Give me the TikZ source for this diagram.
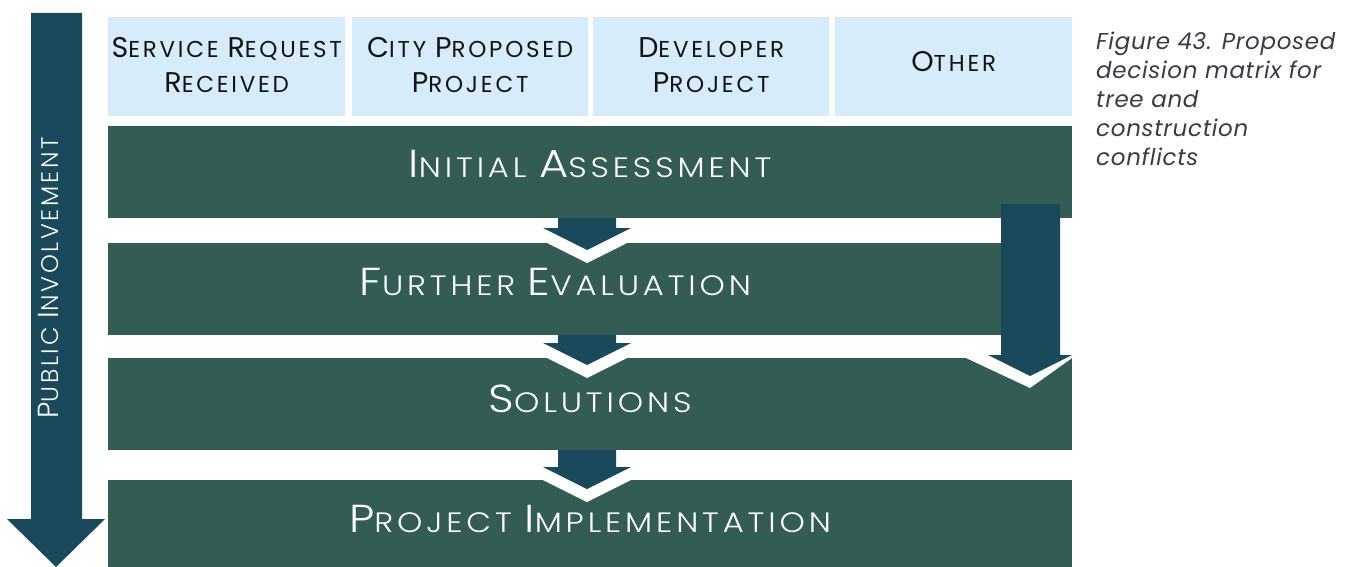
\documentclass[tikz,border=0pt]{standalone}
\usepackage{graphicx}
\usepackage{fontspec}
\setmainfont{Poppins}
\newfontfamily\lightfont{Poppins Light}
\definecolor{bandgreen}{RGB}{51,93,84}
\definecolor{arrowblue}{RGB}{27,73,92}
\definecolor{lightblue}{RGB}{214,236,251}
\definecolor{captiongray}{RGB}{58,58,72}
\definecolor{boxtextcol}{RGB}{20,20,20}
\newcommand\Cp[2]{{\fontsize{#1}{#1}\selectfont #2}}
\newcommand\Wide[1]{\scalebox{1.15}[1]{#1}}
\tikzset{
  topbox/.style={fill=lightblue, draw=none, anchor=north west, minimum height=99pt, inner sep=0pt},
  toptext/.style={align=center, inner sep=0pt, text=boxtextcol, font=\fontsize{23}{35}\selectfont\addfontfeatures{LetterSpace=12}},
  band/.style={fill=bandgreen, draw=none, anchor=north west, inner sep=0pt},
  bandtext/.style={text=white, anchor=base, inner sep=0pt, font=\lightfont\fontsize{28}{30}\selectfont\addfontfeatures{LetterSpace=12}},
  arrowfill/.style={fill=arrowblue, draw=none},
  whitefill/.style={fill=white, draw=none},
}
\begin{document}
\begin{tikzpicture}[x=1pt,y=-1pt]
\useasboundingbox (0,0) rectangle (1348,567);
% top boxes
\node[topbox, minimum width=237pt] (b1) at (108,17) {};
\node[topbox, minimum width=236pt] (b2) at (352,17) {};
\node[topbox, minimum width=236pt] (b3) at (593,17) {};
\node[topbox, minimum width=237pt] (b4) at (835,17) {};
\node[toptext, yshift=2pt] (l1) at (b1.center) {\Cp{28.5}{S}ERVICE \Cp{28.5}{R}EQUEST\\\Cp{28.5}{R}ECEIVED};
\node[toptext, yshift=2pt] (l2) at (b2.center) {\Cp{28.5}{C}ITY \Cp{28.5}{P}ROPOSED\\\Cp{28.5}{P}ROJECT};
\node[toptext, yshift=2pt] (l3) at (b3.center) {\Cp{28.5}{D}EVELOPER\\\Cp{28.5}{P}ROJECT};
\node[toptext, yshift=5pt] (l4) at (b4.center) {\Cp{28.5}{O}THER};
% bands
\node[band, minimum width=964pt, minimum height=92pt] (s1) at (108,126) {};
\node[band, minimum width=893pt, minimum height=92pt] (s2) at (108,243) {};
\node[band, minimum width=964pt, minimum height=92pt] (s3) at (108,358) {};
\node[band, minimum width=964pt, minimum height=87pt] (s4) at (108,480) {};
\node[bandtext] (t1) at (590,177) {\Wide{\Cp{39}{I}NITIAL \Cp{39}{A}SSESSMENT}};
\node[bandtext] (t2) at (555.5,295) {\Wide{\Cp{39}{F}URTHER \Cp{39}{E}VALUATION}};
\node[bandtext] (t3) at (590,412) {\Wide{\Cp{39}{S}OLUTIONS}};
\node[bandtext] (t4) at (590,532) {\Wide{\Cp{39}{P}ROJECT \Cp{39}{I}MPLEMENTATION}};
% small chevron arrows between bands
\fill[whitefill] (543,228) -- (631,228) -- (631,241) -- (587,263) -- (543,241) -- cycle;
\fill[arrowfill] (558,218) -- (616,218) -- (616,228) -- (631,228) -- (587,250) -- (543,228) -- (558,228) -- cycle;
\fill[whitefill] (543,343) -- (631,343) -- (631,356) -- (587,378) -- (543,356) -- cycle;
\fill[arrowfill] (558,335) -- (616,335) -- (616,343) -- (631,343) -- (587,365) -- (543,343) -- (558,343) -- cycle;
\fill[whitefill] (543,467) -- (631,467) -- (631,480) -- (587,502) -- (543,480) -- cycle;
\fill[arrowfill] (558,450) -- (616,450) -- (616,467) -- (631,467) -- (587,489) -- (543,467) -- (558,467) -- cycle;
% big right arrow
\fill[whitefill] (966,355) -- (1072,355) -- (1072,358) -- (1030,388) -- (966,358) -- cycle;
\fill[arrowfill] (1001,204) -- (1060,204) -- (1060,355) -- (1072,355) -- (1030,376) -- (988,355) -- (1001,355) -- cycle;
% left arrow
\fill[arrowfill] (31,13) -- (82,13) -- (82,519) -- (105,519) -- (56,567) -- (7,519) -- (31,519) -- cycle;
\node[rotate=90, anchor=base, text=white, inner sep=0pt, font=\lightfont\fontsize{24}{28}\selectfont\addfontfeatures{LetterSpace=11}] (pi) at (58,278) {\Cp{29}{P}UBLIC \Cp{29}{I}NVOLVEMENT};
% caption
\node[anchor=north west, inner sep=0pt, align=left, text=captiongray, font=\fontsize{23}{29}\selectfont\itshape\addfontfeatures{LetterSpace=3}] (cap) at (1096,32) {Figure 43. Proposed\\decision matrix for\\tree and\\construction\\conflicts};
\end{tikzpicture}
\end{document}
